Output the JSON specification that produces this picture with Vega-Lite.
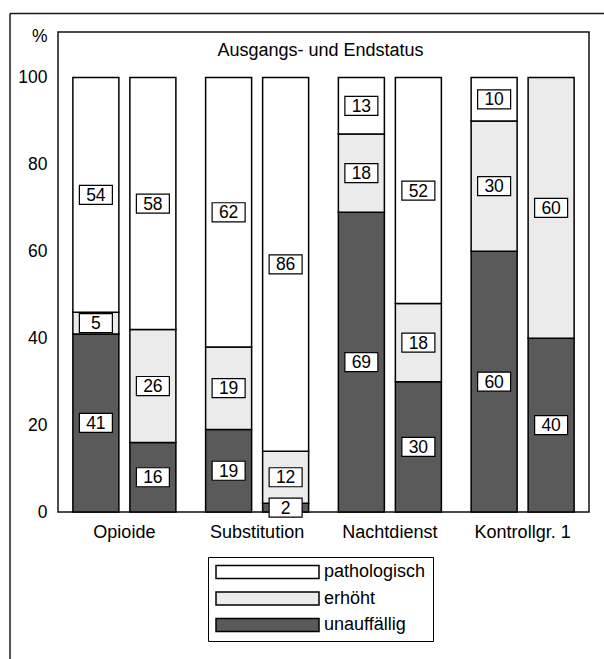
{
  "$schema": "https://vega.github.io/schema/vega-lite/v6.json",
  "width": 531,
  "height": 480,
  "autosize": {"type": "none"},
  "padding": {"left": 58, "top": 32, "right": 15, "bottom": 147},
  "background": "white",
  "title": {"text": "Ausgangs- und Endstatus", "offset": -23, "fontSize": 18, "fontWeight": "normal", "anchor": "middle", "baseline": "alphabetic", "dx": -3, "dy": 38, "color": "black"},
  "data": {"values": [
    {"g": "Opioide", "t": "A", "k": "unauffällig", "s": 1, "v": 41},
    {"g": "Opioide", "t": "A", "k": "erhöht", "s": 2, "v": 5},
    {"g": "Opioide", "t": "A", "k": "pathologisch", "s": 3, "v": 54},
    {"g": "Opioide", "t": "E", "k": "unauffällig", "s": 1, "v": 16},
    {"g": "Opioide", "t": "E", "k": "erhöht", "s": 2, "v": 26},
    {"g": "Opioide", "t": "E", "k": "pathologisch", "s": 3, "v": 58},
    {"g": "Substitution", "t": "A", "k": "unauffällig", "s": 1, "v": 19},
    {"g": "Substitution", "t": "A", "k": "erhöht", "s": 2, "v": 19},
    {"g": "Substitution", "t": "A", "k": "pathologisch", "s": 3, "v": 62},
    {"g": "Substitution", "t": "E", "k": "unauffällig", "s": 1, "v": 2},
    {"g": "Substitution", "t": "E", "k": "erhöht", "s": 2, "v": 12},
    {"g": "Substitution", "t": "E", "k": "pathologisch", "s": 3, "v": 86},
    {"g": "Nachtdienst", "t": "A", "k": "unauffällig", "s": 1, "v": 69},
    {"g": "Nachtdienst", "t": "A", "k": "erhöht", "s": 2, "v": 18},
    {"g": "Nachtdienst", "t": "A", "k": "pathologisch", "s": 3, "v": 13},
    {"g": "Nachtdienst", "t": "E", "k": "unauffällig", "s": 1, "v": 30},
    {"g": "Nachtdienst", "t": "E", "k": "erhöht", "s": 2, "v": 18},
    {"g": "Nachtdienst", "t": "E", "k": "pathologisch", "s": 3, "v": 52},
    {"g": "Kontrollgr. 1", "t": "A", "k": "unauffällig", "s": 1, "v": 60},
    {"g": "Kontrollgr. 1", "t": "A", "k": "erhöht", "s": 2, "v": 30},
    {"g": "Kontrollgr. 1", "t": "A", "k": "pathologisch", "s": 3, "v": 10},
    {"g": "Kontrollgr. 1", "t": "E", "k": "unauffällig", "s": 1, "v": 40},
    {"g": "Kontrollgr. 1", "t": "E", "k": "erhöht", "s": 2, "v": 60}
  ]},
  "layer": [
    {
      "encoding": {
        "x": {"field": "g", "type": "nominal", "sort": ["Opioide", "Substitution", "Nachtdienst", "Kontrollgr. 1"], "scale": {"paddingInner": 0, "paddingOuter": 0}, "axis": {"title": null}},
        "xOffset": {"field": "t", "type": "nominal", "sort": ["A", "E"], "scale": {"paddingInner": 0.193, "paddingOuter": 0.261}},
        "y": {"field": "v", "type": "quantitative", "stack": "zero", "scale": {"domain": [0, 110.5], "nice": false, "zero": false}, "axis": {"title": "%", "values": [0, 20, 40, 60, 80, 100]}},
        "order": {"field": "s", "type": "quantitative"}
      },
      "layer": [
        {
          "mark": {"type": "bar", "stroke": "black", "strokeWidth": 1.5},
          "encoding": {
            "fill": {"field": "k", "type": "nominal", "scale": {"domain": ["pathologisch", "erhöht", "unauffällig"], "range": ["#ffffff", "#ebebeb", "#5a5a5a"]}}
          }
        },
        {
          "mark": {"type": "point", "shape": "M-1,-0.576H1V0.576H-1Z", "size": 1089, "filled": true, "fill": "white", "stroke": "black", "strokeWidth": 1.2, "opacity": 1},
          "encoding": {
            "y": {"field": "v", "type": "quantitative", "stack": "zero", "bandPosition": 0.5, "scale": {"domain": [0, 110.5], "nice": false, "zero": false}, "axis": {"title": "%", "values": [0, 20, 40, 60, 80, 100]}},
            "detail": {"field": "k"}
          }
        },
        {
          "mark": {"type": "text", "fontSize": 17.5, "baseline": "middle", "align": "center", "dy": 1, "color": "black"},
          "encoding": {
            "y": {"field": "v", "type": "quantitative", "stack": "zero", "bandPosition": 0.5, "scale": {"domain": [0, 110.5], "nice": false, "zero": false}, "axis": {"title": "%", "values": [0, 20, 40, 60, 80, 100]}},
            "detail": {"field": "k"},
            "text": {"field": "v", "type": "quantitative"}
          }
        }
      ]
    },
    {
      "data": {"values": [{}]},
      "mark": {"type": "rule", "stroke": "#1a1a1a", "strokeWidth": 1.5},
      "encoding": {
        "x": {"datum": -48, "type": "quantitative", "scale": {"domain": [0, 531], "nice": false, "zero": false}, "axis": null},
        "y": {"datum": 114.76, "type": "quantitative", "scale": {"domain": [0, 110.5], "nice": false, "zero": false}, "axis": {"title": "%", "values": [0, 20, 40, 60, 80, 100]}},
        "y2": {"datum": -45}
      }
    },
    {
      "data": {"values": [{}]},
      "mark": {"type": "rule", "stroke": "#1a1a1a", "strokeWidth": 1.5},
      "encoding": {
        "x": {"datum": -48, "type": "quantitative", "scale": {"domain": [0, 531], "nice": false, "zero": false}, "axis": null},
        "x2": {"datum": 600},
        "y": {"datum": 114.76, "type": "quantitative", "scale": {"domain": [0, 110.5], "nice": false, "zero": false}, "axis": {"title": "%", "values": [0, 20, 40, 60, 80, 100]}}
      }
    }
  ],
  "resolve": {"scale": {"x": "independent"}},
  "config": {
    "font": "Liberation Sans",
    "view": {"stroke": "#111111", "strokeWidth": 1.5},
    "axisY": {"domain": false, "ticks": false, "tickSize": 0, "grid": false, "labelFontSize": 17.5, "labelPadding": 11, "labelColor": "black", "titleAngle": 0, "titleAlign": "right", "titleBaseline": "middle", "titleX": -11, "titleY": 4, "titleFontSize": 17.5, "titleFontWeight": "normal", "titleColor": "black"},
    "axisX": {"domain": false, "ticks": false, "tickSize": 0, "grid": false, "labelFontSize": 18, "labelPadding": 11, "labelAngle": 0, "labelColor": "black"},
    "legend": {"title": null, "orient": "none", "legendX": 150, "legendY": 525, "direction": "vertical", "symbolType": "M-1,-0.125H1V0.125H-1Z", "symbolSize": 10609, "symbolStrokeColor": "black", "symbolStrokeWidth": 1.5, "clipHeight": 16, "rowPadding": 8.5, "labelOffset": 4, "padding": 7, "strokeColor": "black", "labelFontSize": 18, "labelColor": "black", "symbolOpacity": 1}
  }
}
